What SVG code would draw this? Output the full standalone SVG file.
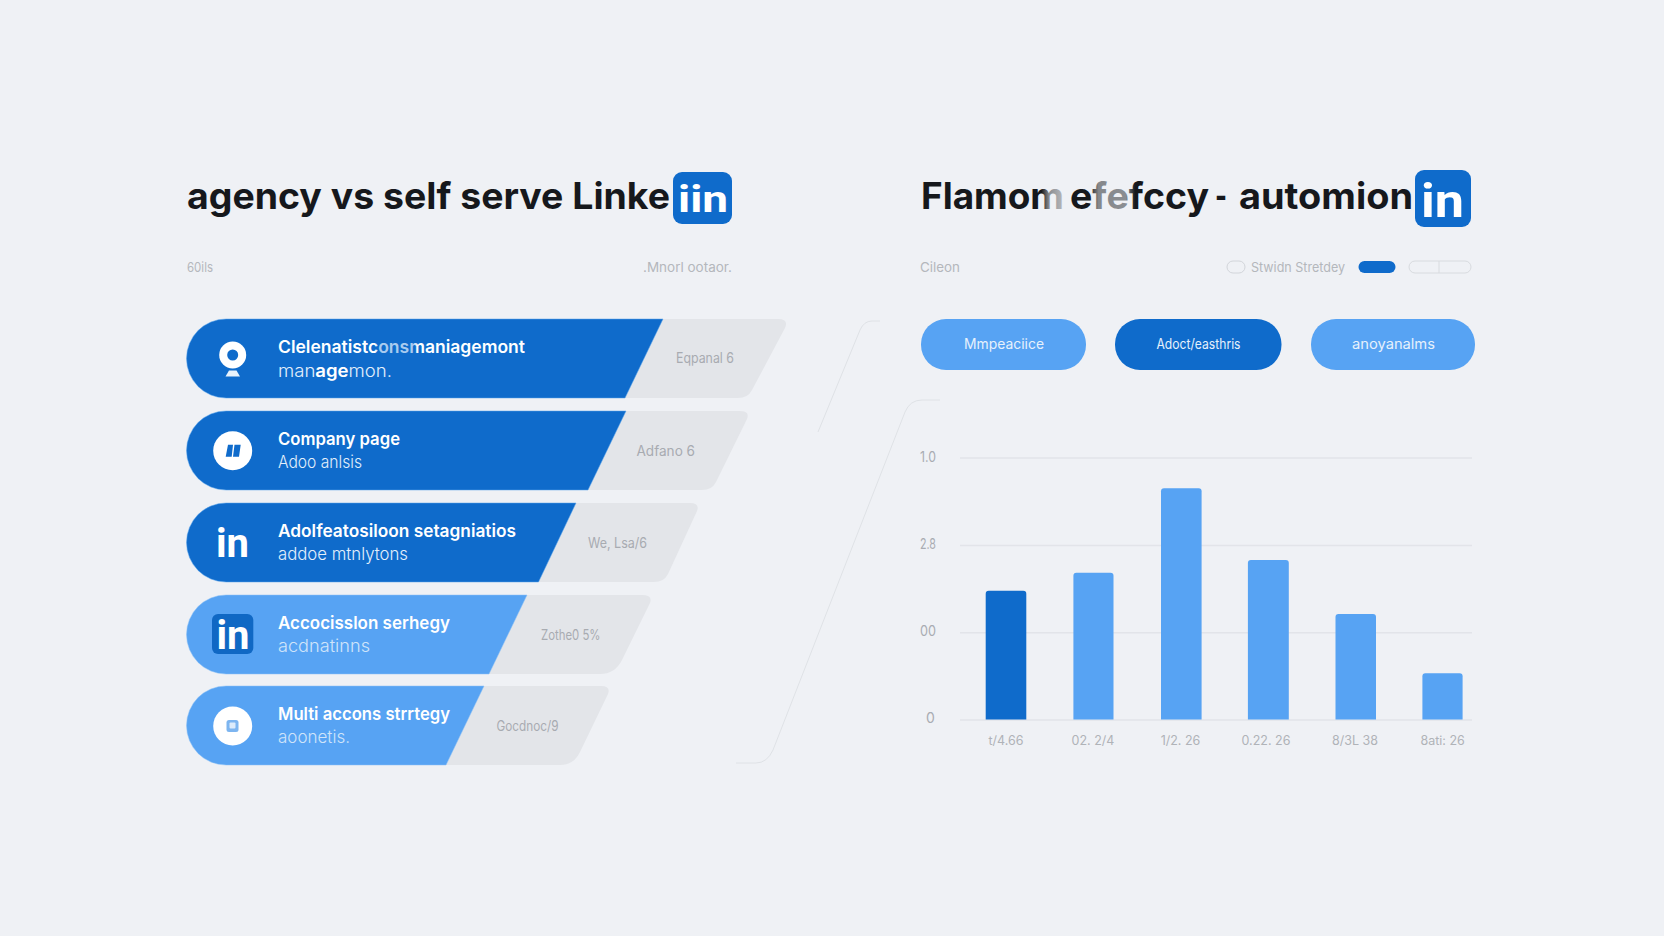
<svg xmlns="http://www.w3.org/2000/svg" width="1664" height="936" viewBox="0 0 1664 936">
<style>
text{font-family:"Inter","Liberation Sans",sans-serif}
.title{font-size:37px;font-weight:700;fill:#16181c}
.sub{font-size:13px;fill:#b4b7bc}
.dk{fill:#0f6bcb;stroke:#5aa6ee;stroke-width:1;stroke-opacity:.5}
.lt{fill:#57a3f3;stroke:#8cc2f7;stroke-width:1;stroke-opacity:.5}
.gray{fill:#e3e5e9}
.h{font-size:17.5px;font-weight:600;fill:#fff}
.s{font-size:17px;font-weight:300;fill:#e3effb}
.s2{font-size:17px;font-weight:300;fill:#cfe4fa}
.g{font-size:14px;fill:#a8abb1}
.in{font-family:"Roboto","Liberation Sans",sans-serif;font-weight:700;fill:#fff}
.btn{font-size:14px;fill:#e6f1fc}
.ax{font-size:14px;fill:#a9acb2}
.xl{font-size:12.5px;fill:#b0b3b8;text-anchor:middle}
.grid{stroke:#e2e4e9;stroke-width:1.5;fill:none}
.deco{stroke:#dfe2e6;stroke-width:1;fill:none}
.blogo{fill:#0f6bcb}
.w{fill:#fff}
</style>
<defs>
<linearGradient id="fade1" gradientUnits="userSpaceOnUse" x1="1005" y1="0" x2="1135" y2="0">
<stop offset="0.28" stop-color="#16181c"/><stop offset="0.34" stop-color="#8b8e92"/><stop offset="0.44" stop-color="#b3b5b9"/><stop offset="0.47" stop-color="#16181c"/><stop offset="0.65" stop-color="#16181c"/><stop offset="0.72" stop-color="#85888c"/><stop offset="0.93" stop-color="#8b8e92"/><stop offset="1" stop-color="#16181c"/>
</linearGradient>
<linearGradient id="fade2" gradientUnits="userSpaceOnUse" x1="375" y1="0" x2="418" y2="0">
<stop offset="0" stop-color="#fff"/><stop offset="0.1" stop-color="#a9cbef"/><stop offset="0.9" stop-color="#a9cbef"/><stop offset="1" stop-color="#fff"/>
</linearGradient>
</defs>
<rect width="1664" height="936" fill="#eff1f5"/>

<g id="title-left">
<text class="title" x="187" y="209" textLength="483" lengthAdjust="spacingAndGlyphs">agency vs self serve Linke</text>
<rect class="blogo" x="673" y="172" width="59" height="52" rx="9"/>
<text class="in" x="678" y="212" font-size="37" textLength="50" lengthAdjust="spacingAndGlyphs">iin</text>
</g>
<g id="title-right">
<text class="title" x="921" y="209" textLength="143" lengthAdjust="spacingAndGlyphs" style="fill:url(#fade1)">Flamom</text>
<text class="title" x="1070" y="209" textLength="139" lengthAdjust="spacingAndGlyphs" style="fill:url(#fade1)">efefccy</text>
<text class="title" x="1215" y="209" textLength="12" lengthAdjust="spacingAndGlyphs">-</text>
<text class="title" x="1239" y="209" textLength="174" lengthAdjust="spacingAndGlyphs">automion</text>
<rect class="blogo" x="1415" y="170" width="56" height="57" rx="9"/>
<text class="in" x="1421" y="217" font-size="47" textLength="43" lengthAdjust="spacingAndGlyphs">in</text>
</g>

<g id="subheads">
<text class="sub" x="187" y="272" textLength="26" lengthAdjust="spacingAndGlyphs">60ils</text>
<text class="sub" x="643" y="272" textLength="89" lengthAdjust="spacingAndGlyphs">.Mnorl ootaor.</text>
<text class="sub" x="920" y="272" textLength="40" lengthAdjust="spacingAndGlyphs">Cileon</text>
<text class="sub" x="1251" y="272" textLength="94" lengthAdjust="spacingAndGlyphs">Stwidn Stretdey</text>
<rect x="1227" y="261" width="18" height="12" rx="6" fill="none" stroke="#d2d5da"/>
<rect x="1358.500" y="261" width="37" height="12" rx="6" fill="#0f6bcb"/>
<rect x="1409" y="261" width="62" height="12" rx="6" fill="none" stroke="#d8dbdf"/>
<path d="M1439 261V273" stroke="#d8dbdf" fill="none"/>
</g>

<g id="connectors">
<path class="deco" d="M818 432L860 330Q864 321 872 321H880"/>
<path class="deco" d="M940 400H922Q910 400 905 412L773 750Q767 763 756 763H736"/>
</g>

<g id="row-1">
<path class="gray" d="M650 319H778Q789 319 785 328L752 390Q748 398 738 398H610Z"/>
<path class="dk" d="M226 319H663L625 398H226A39.5 39.5 0 0 1 226 319Z"/>
<circle class="w" cx="232.700" cy="355" r="13.500"/><circle class="dk" style="stroke:none" cx="232.700" cy="355" r="5.500"/>
<path fill="#e8f2fc" d="M229 370.500H236.500L240 376.500H225.500Z"/>
<text class="h" x="278" y="353" textLength="247" lengthAdjust="spacingAndGlyphs" style="fill:url(#fade2)">Clelenatistconsmaniagemont</text>
<text class="s" x="278" y="376.500" textLength="114" lengthAdjust="spacingAndGlyphs">man<tspan font-weight="600" fill="#fff">age</tspan>mon.</text>
<text class="g" x="676" y="363" textLength="58" lengthAdjust="spacingAndGlyphs">Eqpanal 6</text>
</g>
<g id="row-2">
<path class="gray" d="M612 411H740Q750 411 747 419L716 482Q712 490 702 490H574Z"/>
<path class="dk" d="M226 411H626L588 490H226A39.5 39.5 0 0 1 226 411Z"/>
<circle class="w" cx="232.700" cy="450.700" r="19.500"/>
<path class="blogo" d="M228 444.700H233L231.700 456.700H225.700ZM234.500 444.700H240.700L239 456.700H233Z"/>
<text class="h" x="278" y="445" textLength="122" lengthAdjust="spacingAndGlyphs">Company page</text>
<text class="s" x="278" y="468" textLength="84" lengthAdjust="spacingAndGlyphs">Adoo anlsis</text>
<text class="g" x="636.500" y="455.500" textLength="58.500" lengthAdjust="spacingAndGlyphs">Adfano 6</text>
</g>
<g id="row-3">
<path class="gray" d="M562 503H690Q700 503 697 511L668 574Q664 582 654 582H524Z"/>
<path class="dk" d="M226 503H576L538.500 582H226A39.5 39.5 0 0 1 226 503Z"/>
<text class="in" x="216" y="557" font-size="41" textLength="33" lengthAdjust="spacingAndGlyphs">in</text>
<text class="h" x="278" y="536.500" textLength="238" lengthAdjust="spacingAndGlyphs">Adolfeatosiloon setagniatios</text>
<text class="s" x="278" y="560" textLength="130" lengthAdjust="spacingAndGlyphs">addoe mtnlytons</text>
<text class="g" x="588" y="548" textLength="59" lengthAdjust="spacingAndGlyphs">We, Lsa/6</text>
</g>
<g id="row-4">
<path class="gray" d="M513 595H642Q653 595 650 603L622 660Q615 674 600 674H475Z"/>
<path class="lt" d="M226 595H527L489 674H226A39.5 39.5 0 0 1 226 595Z"/>
<rect x="212" y="614" width="41.300" height="40" rx="6" fill="#1068c4"/>
<text class="in" x="216.500" y="648.700" font-size="41" textLength="33" lengthAdjust="spacingAndGlyphs">in</text>
<text class="h" x="278" y="628.500" textLength="172" lengthAdjust="spacingAndGlyphs">Accocisslon serhegy</text>
<text class="s2" x="278" y="652" textLength="92" lengthAdjust="spacingAndGlyphs">acdnatinns</text>
<text class="g" x="541" y="640" textLength="59.500" lengthAdjust="spacingAndGlyphs">Zothe0 5%</text>
</g>
<g id="row-5">
<path class="gray" d="M470 686H601Q611 686 608 694L580 752Q574 765 560 765H432Z"/>
<path class="lt" d="M226 686H484L446 765H226A39.5 39.5 0 0 1 226 686Z"/>
<circle class="w" cx="232.700" cy="726" r="19.500"/>
<rect x="226.500" y="720" width="12" height="12" rx="2.500" fill="#7db5f0"/>
<rect x="229.500" y="722.500" width="6" height="6" rx="1" fill="#dcebfb"/>
<text class="h" x="278" y="720" textLength="172" lengthAdjust="spacingAndGlyphs">Multi accons strrtegy</text>
<text class="s2" x="278" y="743" textLength="72" lengthAdjust="spacingAndGlyphs">aoonetis.</text>
<text class="g" x="496.500" y="730.500" textLength="62" lengthAdjust="spacingAndGlyphs">Gocdnoc/9</text>
</g>

<g id="btn-1"><rect x="921" y="319" width="165" height="51" rx="25" fill="#57a3f3"/><text class="btn" x="964" y="349" textLength="80" lengthAdjust="spacingAndGlyphs">Mmpeaciice</text></g>
<g id="btn-2"><rect x="1115" y="319" width="166.500" height="51" rx="25" fill="#0f6bcb"/><text class="btn" x="1156.500" y="349" textLength="84" lengthAdjust="spacingAndGlyphs">Adoct/easthris</text></g>
<g id="btn-3"><rect x="1311" y="319" width="164" height="51" rx="25" fill="#57a3f3"/><text class="btn" x="1352" y="349" textLength="83" lengthAdjust="spacingAndGlyphs">anoyanalms</text></g>

<g id="chart">
<path class="grid" d="M960 458H1472M960 545.500H1472M960 632.700H1472M960 720H1472"/>
<text class="ax" x="920" y="461.500" textLength="16" lengthAdjust="spacingAndGlyphs">1.0</text>
<text class="ax" x="920" y="549" textLength="16" lengthAdjust="spacingAndGlyphs">2.8</text>
<text class="ax" x="920" y="636" textLength="16" lengthAdjust="spacingAndGlyphs">00</text>
<text class="ax" x="926" y="723">0</text>
<path fill="#0f6bcb" d="M985.700 719.500V593.700Q985.700 590.700 988.700 590.700H1023.300Q1026.300 590.700 1026.300 593.700V719.500Z"/>
<path fill="#57a3f3" d="M1073.400 719.500V575.700Q1073.400 572.700 1076.400 572.700H1110.500Q1113.500 572.700 1113.500 575.700V719.500Z"/>
<path fill="#57a3f3" d="M1161 719.500V491.300Q1161 488.300 1164 488.300H1198.600Q1201.600 488.300 1201.600 491.300V719.500Z"/>
<path fill="#57a3f3" d="M1247.900 719.500V563Q1247.900 560 1250.900 560H1285.800Q1288.800 560 1288.800 563V719.500Z"/>
<path fill="#57a3f3" d="M1335.500 719.500V617Q1335.500 614 1338.500 614H1373Q1376 614 1376 617V719.500Z"/>
<path fill="#57a3f3" d="M1422.400 719.500V676.300Q1422.400 673.300 1425.400 673.300H1459.600Q1462.600 673.300 1462.600 676.300V719.500Z"/>
<text class="xl" x="1006" y="745">t/4.66</text>
<text class="xl" x="1093" y="745">02. 2/4</text>
<text class="xl" x="1180.500" y="745">1/2. 26</text>
<text class="xl" x="1266" y="745">0.22. 26</text>
<text class="xl" x="1355" y="745">8/3L 38</text>
<text class="xl" x="1442.700" y="745">8ati: 26</text>
</g>
</svg>
